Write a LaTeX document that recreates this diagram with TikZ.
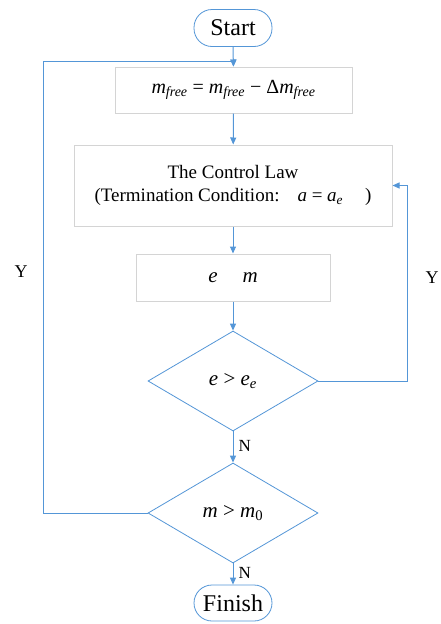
\documentclass[tikz,border=0pt]{standalone}
\usepackage{fontspec}
\setmainfont{Liberation Serif}
\usetikzlibrary{shapes.geometric,arrows.meta}
\definecolor{lineblue}{RGB}{84,150,215}
\definecolor{boxgray}{RGB}{212,212,212}
\newcommand\mysub[1]{\textsubscript{\textit{#1}}}
\begin{document}
\begin{tikzpicture}[x=1pt,y=-1pt,
  conn/.style={draw=lineblue, line width=1pt, -{Triangle[length=7pt,width=6pt]}},
  procbox/.style={draw=boxgray, line width=1pt, fill=white, rectangle, inner sep=0pt, font=\fontsize{19}{23}\selectfont, align=center},
  terminal/.style={draw=lineblue, line width=0.8pt, fill=white, rectangle, rounded corners=18pt, inner sep=0pt, minimum width=78pt, minimum height=37pt, font=\fontsize{24}{28}\selectfont},
  decision/.style={draw=lineblue, line width=0.8pt, fill=white, diamond, inner sep=0pt, minimum width=170pt, minimum height=100pt, font=\fontsize{21}{25}\selectfont},
  lbl/.style={font=\fontsize{17}{20}\selectfont, inner sep=0pt}
]
\useasboundingbox (0,0) rectangle (441,624);
\node[terminal] (start) at (233,28) {Start};
\node[procbox, minimum width=237pt, minimum height=46pt, font=\fontsize{20}{24}\selectfont] (box1) at (233.5,90)
  {\textit{m}\mysub{free} = \textit{m}\mysub{free} − Δ\textit{m}\mysub{free}};
\node[procbox, minimum width=318pt, minimum height=81pt] (box2) at (233,185.5)
  {The Control Law\\(Termination Condition:\hspace{18pt}\textit{a} = \textit{a}\mysub{e}\hspace{22pt})};
\node[procbox, minimum width=194pt, minimum height=47pt, font=\fontsize{21}{25}\selectfont] (box3) at (233,277.5)
  {\textit{e}\hspace{25pt}\textit{m}};
\node[decision] (d1) at (233,381) {\textit{e} > \textit{e}\mysub{e}};
\node[decision] (d2) at (233,513) {\textit{m} > \textit{m}\textsubscript{0}};
\node[terminal, minimum height=36pt] (finish) at (233,603) {Finish};

\coordinate (rloop) at (407,185.5);
\coordinate (lloop) at (43,61);

\draw[conn] (start) -- (box1);
\draw[conn] (box1) -- (box2);
\draw[conn] (box2) -- (box3);
\draw[conn] (box3) -- (d1);
\draw[conn] (d1) -- node[lbl, right=5pt, pos=0.45] (n1) {N} (d2);
\draw[conn] (d2) -- node[lbl, right=5pt, pos=0.45] (n2) {N} (finish);
\draw[conn] (d1.east) -| (rloop) -- (box2.east);
\draw[conn] (d2.west) -| (lloop) -| (box1.north);
\node[lbl, font=\fontsize{18}{20}\selectfont] (y1) at (21,272) {Y};
\node[lbl, font=\fontsize{18}{20}\selectfont] (y2) at (432,278) {Y};
\end{tikzpicture}
\end{document}
